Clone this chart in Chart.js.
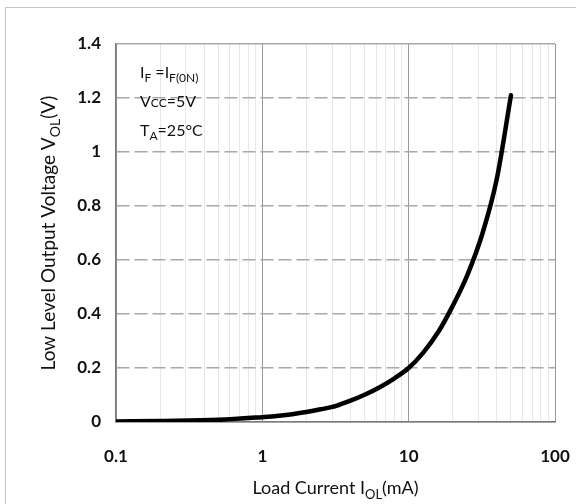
<!DOCTYPE html>
<html>
<head>
<meta charset="utf-8">
<script src="https://cdn.jsdelivr.net/npm/chart.js@4.4.0/dist/chart.umd.min.js"></script>
<style>
  html, body { margin: 0; padding: 0; background: #fff; overflow: hidden; }
  #wrap { position: relative; width: 576px; height: 504px; }
  #frame { position: absolute; left: 5px; top: 7px; width: 600px; height: 600px; border: 1px solid #c4c4c4; }
  canvas { position: absolute; left: 0; top: 0; }
</style>
</head>
<body>
<div id="wrap">
  <div id="frame"></div>
  <canvas id="chart" width="576" height="504"></canvas>
</div>
<script>
// Load current (mA) and low level output voltage (V)
const loadCurrent = [0.1, 0.2, 0.5, 1, 1.25, 1.6, 2, 2.5, 3.2, 4, 5, 6.3, 8, 10, 12.5, 16, 20, 25, 32, 40, 50]
const outputVoltage = [0.002, 0.004, 0.008, 0.018, 0.022, 0.029, 0.037, 0.047, 0.06, 0.079, 0.101, 0.128, 0.162, 0.2, 0.255, 0.335, 0.43, 0.54, 0.70, 0.90, 1.21]
const xDecades = [0.1, 1, 10, 100]
const yMin = 0
const yMax = 1.4
const yStep = 0.2

const FONT = 'Lato, "Open Sans", sans-serif'

// text pieces: { t: text, sub: true } for subscripts, { t, small: true } for small caps
function richWidth (ctx, parts, size) {
  let w = 0
  parts.forEach(p => {
    const s = p.sub || p.small ? Math.round(size * 0.72) : size
    ctx.font = s + 'px ' + FONT
    w += ctx.measureText(p.t).width
  })
  return w
}

function drawRich (ctx, parts, x, y, size) {
  let cx = x
  parts.forEach(p => {
    const s = p.sub || p.small ? Math.round(size * 0.72) : size
    ctx.font = s + 'px ' + FONT
    ctx.fillText(p.t, cx, p.sub ? y + size * 0.25 : y)
    cx += ctx.measureText(p.t).width
  })
}

const textPlugin = {
  id: 'texts',
  afterDraw (chart) {
    const ctx = chart.ctx
    const area = chart.chartArea
    ctx.save()
    ctx.fillStyle = '#111'
    ctx.textBaseline = 'alphabetic'
    ctx.textAlign = 'left'

    // conditions box
    drawRich(ctx, [{ t: 'I' }, { t: 'F', sub: true }, { t: ' =I' }, { t: 'F(0N)', sub: true }], 140, 78, 16)
    drawRich(ctx, [{ t: 'V' }, { t: 'CC', small: true }, { t: '=5V' }], 140, 107, 16)
    drawRich(ctx, [{ t: 'T' }, { t: 'A', sub: true }, { t: '=25°C' }], 140, 136, 16)

    // x axis title
    const xParts = [{ t: 'Load Current I' }, { t: 'OL', sub: true }, { t: '(mA)' }]
    const xw = richWidth(ctx, xParts, 18)
    drawRich(ctx, xParts, (area.left + area.right) / 2 - xw / 2, 494, 18)

    // y axis title
    const yParts = [{ t: 'Low Level Output Voltage V' }, { t: 'OL', sub: true }, { t: '(V)' }]
    const yw = richWidth(ctx, yParts, 19)
    ctx.translate(55, (area.top + area.bottom) / 2)
    ctx.rotate(-Math.PI / 2)
    drawRich(ctx, yParts, -yw / 2, 0, 19)
    ctx.restore()
  }
}

const points = loadCurrent.map((x, i) => ({ x, y: outputVoltage[i] }))

// eslint-disable-next-line no-undef
const chart = new Chart(document.querySelector('#chart'), {
  type: 'line',
  data: {
    datasets: [{
      data: points,
      borderColor: '#000',
      borderWidth: 4.5,
      borderCapStyle: 'round',
      borderJoinStyle: 'round',
      pointRadius: 0,
      cubicInterpolationMode: 'monotone',
      fill: false
    }]
  },
  options: {
    responsive: false,
    animation: false,
    layout: { padding: { left: 10, right: 21, top: 44, bottom: 10 } },
    plugins: {
      legend: { display: false },
      tooltip: { enabled: false }
    },
    scales: {
      x: {
        type: 'logarithmic',
        min: xDecades[0],
        max: xDecades[xDecades.length - 1],
        afterBuildTicks (scale) {
          const ticks = []
          for (let d = 0; d < xDecades.length - 1; d++) {
            for (let k = 1; k < 10; k++) {
              ticks.push({ value: Number((k * xDecades[d]).toPrecision(3)) })
            }
          }
          ticks.push({ value: xDecades[xDecades.length - 1] })
          scale.ticks = ticks
        },
        afterFit (scale) {
          scale.height = 72
          scale.paddingLeft = 0
          scale.paddingRight = 0
        },
        ticks: {
          autoSkip: false,
          maxRotation: 0,
          padding: 24,
          color: '#111',
          font: { family: FONT, size: 17, weight: 'bold' },
          callback: (v) => xDecades.includes(v) ? String(v) : ''
        },
        grid: {
          drawTicks: false,
          lineWidth: 1,
          color: (c) => xDecades.includes(c.tick && c.tick.value) ? '#9a9a9a' : '#e8e8e8'
        },
        border: { color: '#7a7a7a', width: 1.5 }
      },
      y: {
        min: yMin,
        max: yMax,
        afterFit (scale) {
          scale.width = 106
          scale.paddingTop = 0
          scale.paddingBottom = 0
        },
        ticks: {
          stepSize: yStep,
          padding: 15,
          color: '#111',
          font: { family: FONT, size: 17, weight: 'bold' },
          callback: (v) => String(Math.round(v * 10) / 10)
        },
        grid: {
          drawTicks: false,
          lineWidth: 1.5,
          color: '#a8a8a8'
        },
        border: {
          color: '#7a7a7a',
          width: 1.5,
          dash: (c) => {
            const v = c.tick ? c.tick.value : 0
            return v <= yMin || v >= yMax - 1e-9 ? [] : [13, 5]
          }
        }
      }
    }
  },
  plugins: [textPlugin]
})
</script>
</body>
</html>
